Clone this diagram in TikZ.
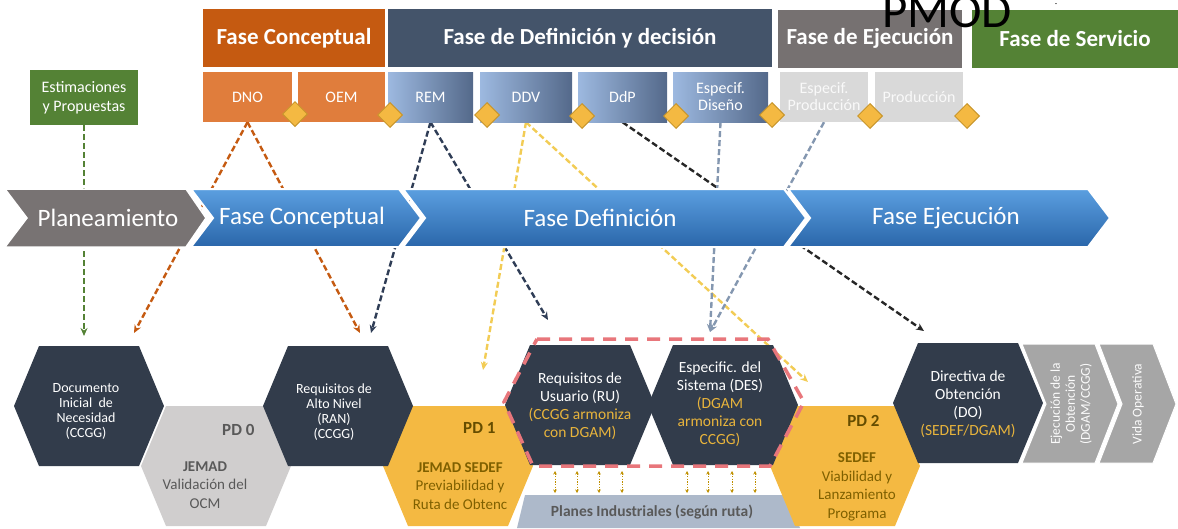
\documentclass[tikz,border=0pt]{standalone}
\usepackage{fontspec}
\setmainfont{Carlito}
\usetikzlibrary{arrows.meta,shapes.geometric,calc}
\definecolor{hOrange}{HTML}{C55A11}
\definecolor{sOrange}{HTML}{E07D3C}
\definecolor{hSlate}{HTML}{44546A}
\definecolor{sBlueL}{HTML}{9DB9E0}
\definecolor{sBlueR}{HTML}{54698A}
\definecolor{hGray}{HTML}{767171}
\definecolor{sGray}{HTML}{D9D9D9}
\definecolor{hGreen}{HTML}{548235}
\definecolor{gold}{HTML}{F4B942}
\definecolor{goldDark}{HTML}{C9962C}
\definecolor{chevTop}{HTML}{5B9FE0}
\definecolor{chevBot}{HTML}{2A66AA}
\definecolor{chevGray}{HTML}{787373}
\definecolor{hexDark}{HTML}{323C4B}
\definecolor{hexGray}{HTML}{D0CECE}
\definecolor{hexYellow}{HTML}{F4B942}
\definecolor{goldText}{HTML}{E8B43C}
\definecolor{brownText}{HTML}{7F6000}
\definecolor{grayText}{HTML}{595959}
\definecolor{planesC}{HTML}{ADB9CA}
\definecolor{rchev}{HTML}{A6A6A6}
\definecolor{redDash}{HTML}{E8767B}
\definecolor{cOrange}{HTML}{C55A11}
\definecolor{cNavy}{HTML}{2F3D56}
\definecolor{cYellow}{HTML}{F2CC55}
\definecolor{cBlack}{HTML}{262626}
\definecolor{cSteel}{HTML}{8497B0}
\definecolor{cGreen}{HTML}{548235}
\definecolor{smallArr}{HTML}{BF9000}
\pgfdeclarelayer{back}
\pgfsetlayers{back,main}
\newcommand\hexat[2]{\fill[#2] ($(#1)+(-75,0)$) -- ++(25,-60) -- ++(100,0) -- ++(25,60) -- ++(-25,60) -- ++(-100,0) -- cycle;}
\begin{document}
\begin{tikzpicture}[x=1pt,y=-1pt,
  hdr/.style={text=white, font=\bfseries\fontsize{23}{26}\selectfont, minimum height=58, inner sep=0},
  subbox/.style={text=white, font=\fontsize{16}{17}\selectfont, minimum height=50, inner sep=0, align=center},
  dia/.style={diamond, fill=gold, draw=goldDark, line width=1pt, inner sep=0, minimum width=25, minimum height=25},
  chevtext/.style={text=white, font=\fontsize{25}{28}\selectfont},
  conn/.style={line width=2.4pt, dash pattern=on 6pt off 3pt, -{Stealth[length=8pt,width=7pt]}},
  hexsmall/.style={text=white, align=center, font=\fontsize{14}{15}\selectfont},
  hexT/.style={text=white, align=center, font=\fontsize{15.5}{18}\selectfont},
  pdlabel/.style={anchor=east, font=\bfseries\fontsize{17}{20}\selectfont},
  pdbody/.style={align=center, font=\fontsize{15}{18.5}\selectfont},
  reddash/.style={draw=redDash, line width=3.5pt, dash pattern=on 13pt off 9pt},
  smallarr/.style={draw=smallArr, line width=0.8pt, dash pattern=on 1.5pt off 1.2pt, {Stealth[length=3.5pt,width=3.5pt]}-{Stealth[length=3.5pt,width=3.5pt]}},
  rtext/.style={text=white!95!rchev, rotate=90, align=center, font=\fontsize{13.5}{15}\selectfont}
]
\useasboundingbox (0,0) rectangle (1178,528);

% ---------- header ----------
\node[hdr, fill=hOrange, minimum width=182] (hC) at (294,38) {Fase Conceptual};
\node[hdr, fill=hSlate, minimum width=384] (hD) at (580,38) {Fase de Definición y decisión};
\node[hdr, fill=hGray, minimum width=184] (hE) at (870,38.5) {Fase de Ejecución};
\node[hdr, fill=hGreen, minimum width=206] (hS) at (1075,39) {Fase de Servicio};

\node[subbox, fill=sOrange, minimum width=89] (dno) at (247.5,97) {DNO};
\node[subbox, fill=sOrange, minimum width=87] (oem) at (341.5,97) {OEM};
\node[subbox, left color=sBlueL, right color=sBlueR, minimum width=85] (rem) at (430.5,97) {REM};
\node[subbox, left color=sBlueL, right color=sBlueR, minimum width=92] (ddv) at (526,97) {DDV};
\node[subbox, left color=sBlueL, right color=sBlueR, minimum width=89] (ddp) at (622.5,97) {DdP};
\node[subbox, left color=sBlueL, right color=sBlueR, minimum width=95] (espd) at (720.5,97) {Especif.\\Diseño};
\node[subbox, fill=sGray, text=white!85!sGray, minimum width=88] (espp) at (824,97) {Especif.\\Producción};
\node[subbox, fill=sGray, text=white!85!sGray, minimum width=88] (prod) at (919,97) {Producción};

\node[dia] (d1) at (295,114) {};
\node[dia] (d2) at (390,115) {};
\node[dia] (d3) at (487,115) {};
\node[dia] (d4) at (582,116) {};
\node[dia] (d5) at (676,116) {};
\node[dia] (d6) at (772,115) {};
\node[dia] (d7) at (870,116) {};
\node[dia] (d8) at (967,116) {};

\node[fill=hGreen, text=white, align=center, minimum width=108, minimum height=55, inner sep=0,
  font=\fontsize{16}{19}\selectfont] (est) at (84,97.5) {Estimaciones\\y Propuestas};

\node[font=\fontsize{49}{49}\selectfont, anchor=base west, inner sep=0] (pmod) at (882,27) {PMOD};
\node[font=\fontsize{8}{8}\selectfont, inner sep=0] (dash) at (1056,5) {-};

% ---------- chevrons ----------
\fill[chevGray, draw=white, line width=1.5pt] (5,189) -- (186,189) -- (206,218) -- (186,247) -- (5,247) -- (27,218) -- cycle;
\shade[top color=chevTop, bottom color=chevBot, draw=white, line width=2pt] (191,189) -- (399,189) -- (421,218) -- (399,247) -- (191,247) -- (213,218) -- cycle;
\shade[top color=chevTop, bottom color=chevBot, draw=white, line width=2pt] (403,189) -- (784,189) -- (806,218) -- (784,247) -- (403,247) -- (425,218) -- cycle;
\shade[top color=chevTop, bottom color=chevBot, draw=white, line width=2pt] (788,189) -- (1088,189) -- (1110,218) -- (1088,247) -- (788,247) -- (810,218) -- cycle;
\node[chevtext] (plan) at (108,218) {Planeamiento};
\node[chevtext] (fconc) at (302,218) {Fase Conceptual};
\node[chevtext] (fdef) at (600,218) {Fase Definición};
\node[chevtext] (fejec) at (946,218) {Fase Ejecución};

% ---------- bottom honeycomb ----------
\coordinate (cDoc) at (89,406);
\coordinate (cReq) at (338,406);
\coordinate (cRU) at (580,405);
\coordinate (cDES) at (723,405);
\coordinate (cDO) at (968,403);
\coordinate (cPD0) at (216,466);
\coordinate (cPD1) at (458,466);
\coordinate (cPD2) at (845,466);

\fill[planesC] (525,495) -- (788,495) -- (800,528) -- (517,528) -- cycle;
\node[text=grayText, font=\bfseries\fontsize{15.5}{17}\selectfont] (planes) at (652,512) {Planes Industriales (según ruta)};

\hexat{cPD0}{hexGray}
\hexat{cPD1}{hexYellow}
\hexat{cPD2}{hexYellow}
\hexat{cDoc}{hexDark}
\hexat{cReq}{hexDark}
\hexat{cRU}{hexDark}
\hexat{cDES}{hexDark}
\hexat{cDO}{hexDark}

\fill[rchev, draw=white, line width=1pt] (1022,344) -- (1095,344) -- (1118,404) -- (1095,463) -- (1022,463) -- (1046,404) -- cycle;
\fill[rchev, draw=white, line width=1pt] (1099,344) -- (1153,344) -- (1176,404) -- (1153,463) -- (1099,463) -- (1122,404) -- cycle;
\node[rtext] (ejec) at (1071,404) {Ejecución de la\\Obtención\\(DGAM/CCGG)};
\node[rtext] (vida) at (1138,404) {Vida Operativa};

\node[hexsmall] (doc) at (86,411) {Documento\\Inicial\ \ de\\Necesidad\\(CCGG)};
\node[hexsmall] (req) at (334,412) {Requisitos de\\Alto Nivel\\(RAN)\\(CCGG)};
\node[hexT] (ru) at (580,406) {Requisitos de\\Usuario (RU)\\\textcolor{goldText}{(CCGG armoniza}\\\textcolor{goldText}{con DGAM)}};
\node[hexT] (des) at (720,404) {Especific. del\\Sistema (DES)\\\textcolor{goldText}{(DGAM}\\\textcolor{goldText}{armoniza con}\\\textcolor{goldText}{CCGG)}};
\node[hexT] (do) at (968,404) {Directiva de\\Obtención\\(DO)\\\textcolor{goldText}{(SEDEF/DGAM)}};

\node[pdlabel, text=grayText] (pd0l) at (258,430) {PD 0};
\node[pdbody, text=grayText] (pd0t) at (205,485) {\textbf{JEMAD}\\Validación del\\OCM};
\node[pdlabel, text=brownText!80!black] (pd1l) at (499,428) {PD 1};
\node[pdbody, text=brownText] (pd1t) at (460,486) {\textbf{JEMAD SEDEF}\\Previabilidad y\\Ruta de Obtenc};
\node[pdlabel, text=brownText!80!black] (pd2l) at (883,421) {PD 2};
\node[pdbody, text=brownText] (pd2t) at (857,487) {\textbf{SEDEF}\\Viabilidad y\\Lanzamiento\\Programa};

% small double arrows
\foreach \x [count=\i] in {555,577,599,622,687,708,732,755}{
  \coordinate (ua\i) at (\x,471);
  \coordinate (ub\i) at (\x,493);
  \draw[smallarr] (ua\i) -- (ub\i);
}

% red dashed enclosure
\draw[reddash] (537,339) -- (768,339) -- (804,402) -- (770,466) -- (533,466) -- (504,402) -- cycle;

% ---------- connectors ----------
\coordinate (ge1) at (84,336);
\coordinate (oe1) at (134,333);
\coordinate (oe2) at (360,333);
\coordinate (ne1) at (371,333);
\coordinate (ne2) at (548,320);
\coordinate (ye1) at (483,370);
\coordinate (ye2) at (808,382);
\coordinate (ke1) at (924,331);
\coordinate (se1) at (710,332);
\begin{pgfonlayer}{back}
\draw[conn, cGreen] (est.south) -- (ge1);
\draw[conn, cOrange] (dno.south) -- (oe1);
\draw[conn, cOrange] (dno.south) -- (oe2);
\draw[conn, cNavy] (rem.south) -- (ne1);
\draw[conn, cNavy] (rem.south) -- (ne2);
\draw[conn, cYellow] (ddv.south) -- (ye1);
\draw[conn, cYellow] (ddv.south) -- (ye2);
\draw[conn, cBlack] (ddp.south) -- (ke1);
\draw[conn, cSteel] (espd.south) -- (se1);
\draw[conn, cSteel] (espp.south) -- (se1);
\end{pgfonlayer}
\end{tikzpicture}
\end{document}
